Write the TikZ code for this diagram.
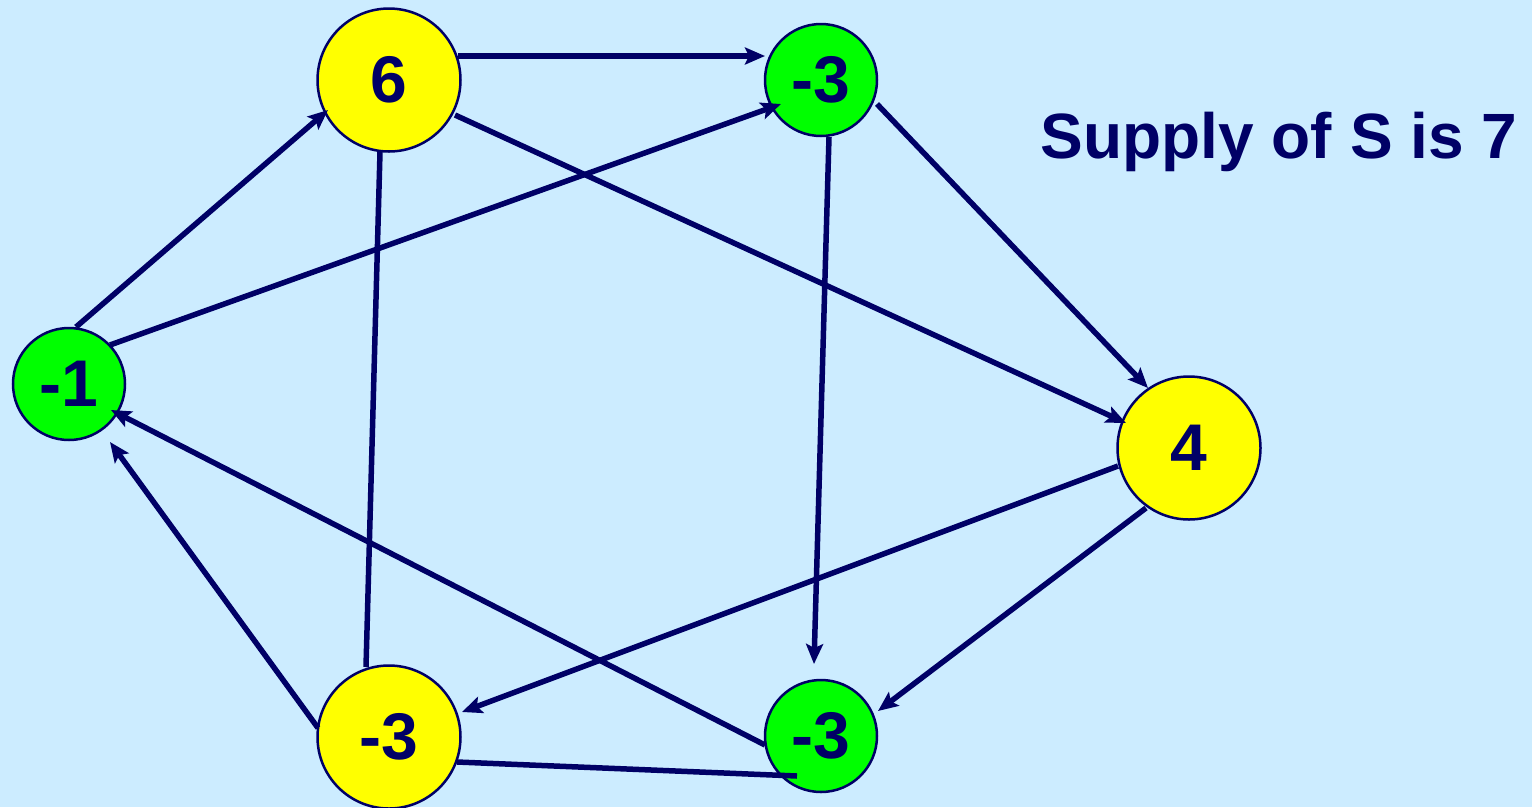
\documentclass[tikz,border=0pt]{standalone}
\usepackage{fontspec}
\setmainfont{Liberation Sans}
\usetikzlibrary{arrows.meta,calc}
\definecolor{bg}{HTML}{CCECFF}
\definecolor{navy}{HTML}{000066}
\definecolor{vyellow}{HTML}{FFFF00}
\definecolor{vgreen}{HTML}{00FF00}
\begin{document}
\begin{tikzpicture}[x=1pt,y=-1pt,
  big/.style={circle,draw=navy,line width=2.5pt,fill=vyellow,minimum size=143pt,
    inner sep=0pt,font=\fontsize{66}{66}\selectfont\bfseries,text=navy},
  small/.style={big,fill=vgreen,minimum size=112pt},
  edge/.style={draw=navy,line width=5.5pt},
  arc/.style={edge,-{Stealth[length=20pt,width=17pt,inset=4pt]}}]

% canvas
\fill[bg] (0,0) rectangle (1532,807);
\useasboundingbox (0,0) rectangle (1532,807);

% vertices
\node[big]   (s) at (389,80)   {6};
\node[small] (t) at (821,80)   {-3};
\node[small] (m) at (69,384)   {-1};
\node[big]   (f) at (1189,448) {4};
\node[big]   (y) at (389,737)  {-3};
\node[small] (g) at (821,736)  {-3};

% arcs
\draw[arc] ($(s)+(69,-24)$) -- ($(t)+(-56,-24)$);
\draw[arc] ($(m)+(7,-57)$) -- ($(s)+(-61,30)$);
\draw[arc] ($(m)+(41,-39)$) -- ($(t)+(-40,24)$);
\draw[arc] ($(s)+(66,35)$) -- ($(f)+(-63,-25)$);
\draw[arc] ($(t)+(56,24)$) -- ($(f)+(-41,-60)$);
\draw[arc] ($(t)+(8,57)$) -- ($(g)+(-7,-72)$);
\draw[edge] ($(s)+(-9,72)$) -- ($(y)+(-23,-70)$);
\draw[arc] ($(f)+(-71,18)$) -- ($(y)+(73,-25)$);
\draw[arc] ($(f)+(-43,60)$) -- ($(g)+(57,-25)$);
\draw[arc] ($(y)+(-71,-9)$) -- ($(m)+(41,58)$);
\draw[arc] ($(g)+(-56,9)$) -- ($(m)+(42,26)$);
\draw[edge] ($(y)+(68,25)$) -- ($(g)+(-24,40)$);

% caption
\node[anchor=base,text=navy,font=\fontsize{64}{64}\selectfont\bfseries,inner sep=0pt]
  (supply) at (1279,158) {Supply of S is 7};
\end{tikzpicture}
\end{document}
